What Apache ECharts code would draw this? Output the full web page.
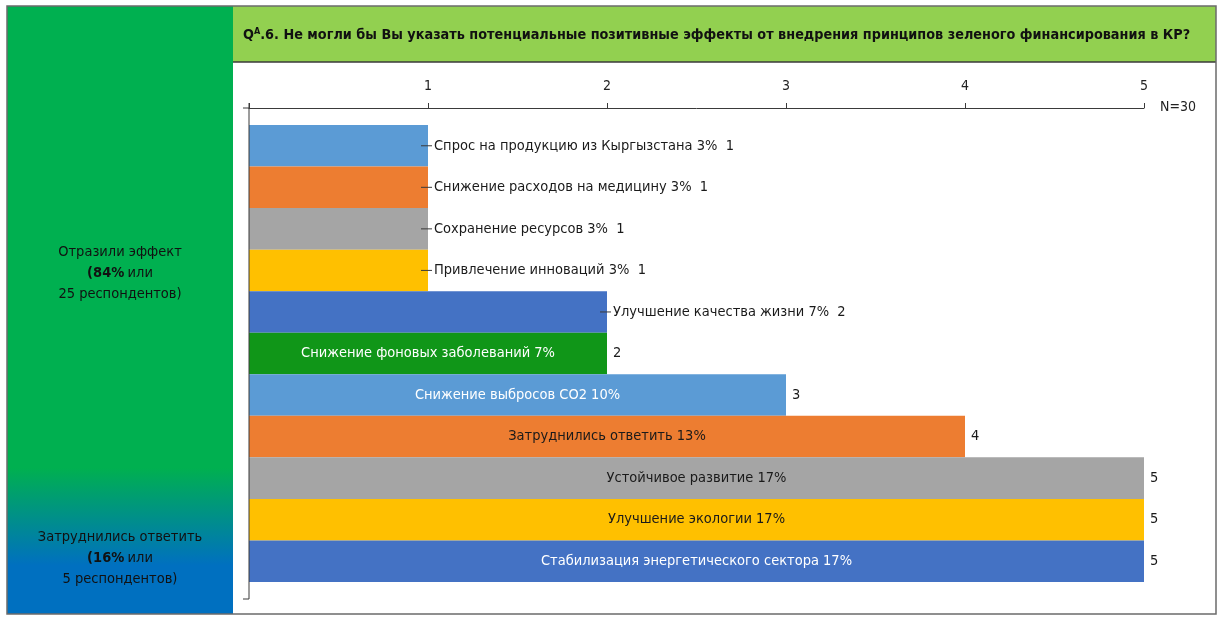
<!DOCTYPE html>
<html><head><meta charset="utf-8">
<script src="https://cdn.jsdelivr.net/npm/echarts@6/dist/echarts.min.js"></script>
<style>html,body{margin:0;padding:0;background:#fff}#c{width:1219px;height:621px}</style>
</head><body><div id="c"></div>
<script>
const categories = [
  "Спрос на продукцию из Кыргызстана",
  "Снижение расходов на медицину",
  "Сохранение ресурсов",
  "Привлечение инноваций",
  "Улучшение качества жизни",
  "Снижение фоновых заболеваний",
  "Снижение выбросов СО2",
  "Затруднились ответить",
  "Устойчивое развитие",
  "Улучшение экологии",
  "Стабилизация энергетического сектора"
];
const counts = [1, 1, 1, 1, 2, 2, 3, 4, 5, 5, 5];
const percents = ["3%", "3%", "3%", "3%", "7%", "7%", "10%", "13%", "17%", "17%", "17%"];
const insideLabel = [false, false, false, false, false, true, true, true, true, true, true];
const barColors = ["#5B9BD5","#ED7D31","#A5A5A5","#FFC000","#4472C4","#109618","#5B9BD5","#ED7D31","#A5A5A5","#FFC000","#4472C4"];
const insideTextColors = ["#000","#000","#000","#000","#000","#fff","#fff","#1a1a1a","#1a1a1a","#1a1a1a","#fff"];
const xTicks = [0, 1, 2, 3, 4, 5];
const titleMain = ".6. Не могли бы Вы указать потенциальные позитивные эффекты от внедрения принципов зеленого финансирования в КР?";
const sampleNote = "N=30";

const FONT = "'Liberation Sans Narrow','Arial Narrow','DejaVu Sans Condensed',sans-serif";
const chart = echarts.init(document.getElementById('c'), null, {renderer: 'canvas'});

const mainData = counts.map((v, i) => ({
  value: v,
  itemStyle: {color: barColors[i]},
  label: insideLabel[i] ? {
    show: true, position: 'inside', color: insideTextColors[i],
    formatter: categories[i] + ' ' + percents[i]
  } : {show: false}
}));
const outerData = counts.map((v, i) => ({
  value: v,
  label: insideLabel[i] ? {
    show: true, position: 'right', distance: 6, color: '#1a1a1a',
    formatter: String(v)
  } : {
    show: true, position: 'right', distance: 0, offset: [-7, 0], color: '#1a1a1a',
    formatter: '{d|}{t|' + categories[i] + ' ' + percents[i] + '  ' + v + '}'
  }
}));

const panelRich = {
  n: {fontFamily: FONT, fontSize: 14.5, fill: '#111', lineHeight: 21},
  b: {fontFamily: FONT, fontSize: 14.5, fontWeight: 'bold', fill: '#111', lineHeight: 21}
};

chart.setOption({
  animation: false,
  textStyle: {fontFamily: FONT},
  graphic: [
    {type: 'rect', z: -10, shape: {x: 7, y: 6, width: 226, height: 608},
      style: {fill: new echarts.graphic.LinearGradient(0, 0, 0, 1, [
        {offset: 0, color: '#00B050'}, {offset: 0.76, color: '#00B050'},
        {offset: 0.92, color: '#0070C0'}, {offset: 1, color: '#0070C0'}]), stroke: null}},
    {type: 'rect', z: -10, shape: {x: 233, y: 6, width: 983, height: 56},
      style: {fill: '#92D050', stroke: null}},
    {type: 'line', z: -5, shape: {x1: 233, y1: 62, x2: 1216, y2: 62}, style: {stroke: '#3a3a3a', lineWidth: 1.5}},
    {type: 'rect', z: -5, shape: {x: 7, y: 6, width: 1209, height: 608},
      style: {fill: null, stroke: '#6b6b6b', lineWidth: 1.5}},
    {type: 'text', z: 5, style: {
      x: 243, y: 35, verticalAlign: 'middle',
      text: '{q|Q}{s|A}{q|' + titleMain + '}',
      rich: {
        q: {fontFamily: FONT, fontWeight: 'bold', fontSize: 14.3, fill: '#111'},
        s: {fontFamily: FONT, fontWeight: 'bold', fontSize: 9, fill: '#111', verticalAlign: 'top', padding: [0, 0, 6, 0]}
      }}},
    {type: 'text', z: 5, style: {
      x: 120, y: 273, align: 'center', verticalAlign: 'middle',
      text: '{n|Отразили эффект}\n{b|(84%} {n|или}\n{n|25 респондентов)}',
      rich: panelRich}},
    {type: 'text', z: 5, style: {
      x: 120, y: 558, align: 'center', verticalAlign: 'middle',
      text: '{n|Затруднились ответить}\n{b|(16%} {n|или}\n{n|5 респондентов)}',
      rich: panelRich}},
    {type: 'text', z: 5, style: {x: 1160, y: 100, text: sampleNote, fontFamily: FONT, fontSize: 14, fill: '#222'}},
    {type: 'line', z: 5, shape: {x1: 249, y1: 103, x2: 249, y2: 599}, style: {stroke: '#3a3a3a', lineWidth: 1}},
    {type: 'line', z: 5, shape: {x1: 243, y1: 108, x2: 249, y2: 108}, style: {stroke: '#3a3a3a', lineWidth: 1}},
    {type: 'line', z: 5, shape: {x1: 243, y1: 599, x2: 249, y2: 599}, style: {stroke: '#3a3a3a', lineWidth: 1}}
  ],
  grid: {left: 249, right: 75, top: 125, bottom: 39, containLabel: false},
  xAxis: {
    type: 'value', position: 'top', offset: 17, min: 0, max: 5, interval: 1,
    axisLine: {show: true, lineStyle: {color: '#3a3a3a', width: 1}},
    axisTick: {show: true, length: 5, lineStyle: {color: '#3a3a3a'}},
    axisLabel: {margin: 15, fontSize: 14, color: '#222', fontFamily: FONT,
      formatter: v => (xTicks.indexOf(v) > 0 ? String(v) : '')},
    splitLine: {show: false}
  },
  yAxis: {
    type: 'category', data: categories, inverse: true,
    axisLine: {show: false}, axisTick: {show: false}, axisLabel: {show: false}
  },
  series: [
    {type: 'bar', data: mainData, barWidth: '100%', barGap: '-100%', z: 2,
      label: {fontFamily: FONT, fontSize: 14.5}},
    {type: 'bar', data: outerData, barWidth: '100%', barGap: '-100%', z: 3,
      itemStyle: {color: 'rgba(0,0,0,0)'},
      label: {fontFamily: FONT, fontSize: 14.5,
        rich: {d: {width: 11, height: 1, backgroundColor: '#3a3a3a'},
               t: {fontFamily: FONT, fontSize: 14.5, color: '#1a1a1a', padding: [0, 0, 0, 2]}}}}
  ]
});
</script></body></html>
